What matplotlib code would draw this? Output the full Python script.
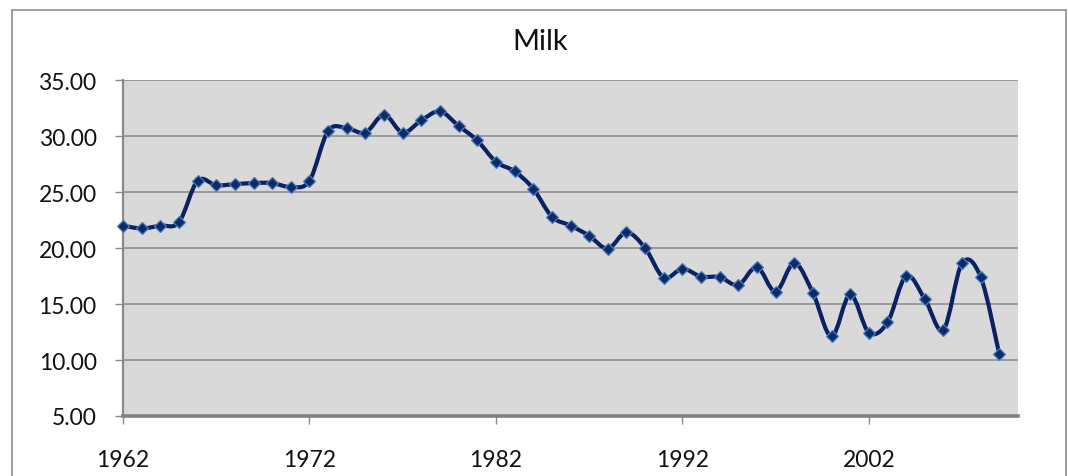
import matplotlib
matplotlib.use("Agg")
import matplotlib.pyplot as plt
import numpy as np
from matplotlib.path import Path
from matplotlib.patches import PathPatch, Rectangle

years = list(range(1962, 2010))
milk = [22.0, 21.75, 22.0, 22.3, 26.0, 25.6, 25.7, 25.8, 25.8, 25.45,
        26.0, 30.45, 30.7, 30.3, 31.9, 30.3, 31.4, 32.2, 30.9, 29.6,
        27.7, 26.85, 25.3, 22.8, 22.0, 21.1, 19.95, 21.4, 20.0, 17.35,
        18.15, 17.45, 17.4, 16.7, 18.3, 16.1, 18.65, 16.0, 12.1, 15.85,
        12.45, 13.35, 17.5, 15.45, 12.7, 18.65, 17.4, 10.5]
xticks = [1962, 1972, 1982, 1992, 2002]
yticks = [5, 10, 15, 20, 25, 30, 35]
title = "Milk"

plt.rcParams['font.family'] = ['Lato', 'DejaVu Sans']

W, H = 1068, 477
fig = plt.figure(figsize=(W / 100, H / 100), dpi=100)
fig.patch.set_facecolor('white')

# chart border
fig.patches.append(Rectangle((12 / W, -0.05), (1066 - 12) / W, (H - 11) / H + 0.05,
                             transform=fig.transFigure, fill=False,
                             edgecolor='#8c8c8c', linewidth=1.2))

L, R, T, B = 123, 1018, 81, 417
ax = fig.add_axes([L / W, (H - B) / H, (R - L) / W, (B - T) / H])
ax.set_facecolor('#d9d9d9')
ax.set_xlim(1962, 2010)
ax.set_ylim(5, 35)

# smoothed line (Catmull-Rom style Bezier, as in Excel smoothed lines)
pts = np.column_stack([years, milk]).astype(float)
n = len(pts)
verts = [tuple(pts[0])]
codes = [Path.MOVETO]
for i in range(n - 1):
    p0 = pts[i - 1] if i > 0 else pts[i]
    p1 = pts[i]
    p2 = pts[i + 1]
    p3 = pts[i + 2] if i + 2 < n else pts[i + 1]
    c1 = p1 + (p2 - p0) / 6.0
    c2 = p2 - (p3 - p1) / 6.0
    verts += [tuple(c1), tuple(c2), tuple(p2)]
    codes += [Path.CURVE4] * 3
ax.add_patch(PathPatch(Path(verts, codes), fill=False, edgecolor='#0b2262',
                       linewidth=3.0, zorder=3, capstyle='round', joinstyle='round'))
ax.plot(years, milk, linestyle='none', marker='D', markersize=6,
        markerfacecolor='#0d2a6b', markeredgecolor='#4a7ebb', markeredgewidth=0.9,
        zorder=4, clip_on=False)

ax.set_yticks(yticks)
ax.set_yticklabels([f"{v:.2f}" for v in yticks])
ax.set_xticks(xticks)
ax.set_xticklabels([str(v) for v in xticks])
ax.grid(axis='y', color='#8a8a8a', linewidth=1.1)
ax.set_axisbelow(True)

for s in ['top', 'right']:
    ax.spines[s].set_visible(False)
ax.spines['left'].set_color('#8a8a8a')
ax.spines['left'].set_linewidth(1.6)
ax.spines['bottom'].set_color('#808080')
ax.spines['bottom'].set_linewidth(2.6)

ax.tick_params(axis='y', direction='out', length=6, width=1, color='#8a8a8a',
               labelsize=16.5, pad=13, labelcolor='#111111')
ax.tick_params(axis='x', direction='out', length=6, width=1, color='#8a8a8a',
               labelsize=16.5, pad=18, labelcolor='#111111')

fig.text(540 / W, 1 - 42 / H, title, ha='center', va='center',
         fontsize=21, color='#111111')

fig.savefig('out.png', dpi=100)
